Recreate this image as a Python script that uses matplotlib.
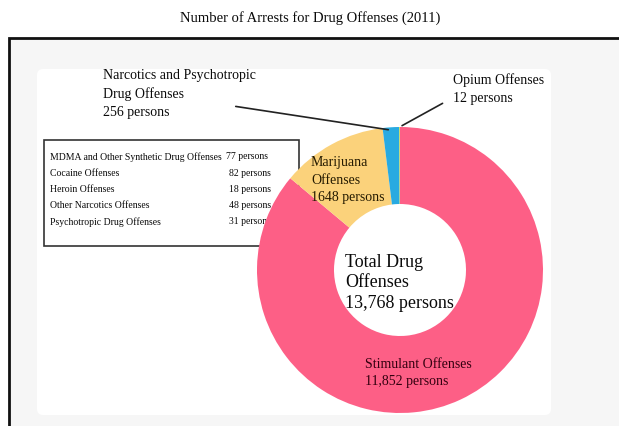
import matplotlib.pyplot as plt
from matplotlib.patches import Rectangle, FancyBboxPatch
import numpy as np

# arrests by offense type, 2011
slice_names = ['Stimulant Offenses', 'Marijuana Offenses',
               'Narcotics and Psychotropic Drug Offenses', 'Opium Offenses']
slice_values = [11852, 1648, 256, 12]
slice_colors = ['#fd5f86', '#fbd27b', '#28aae1', '#c8d84a']
total = 13768

# breakdown of narcotics / psychotropic offenses
detail_names = ['MDMA and Other Synthetic Drug Offenses', 'Cocaine Offenses',
                'Heroin Offenses', 'Other Narcotics Offenses',
                'Psychotropic Drug Offenses']
detail_values = [77, 82, 18, 48, 31]

W, H = 619, 427
plt.rcParams['font.family'] = ['Liberation Serif', 'DejaVu Serif']

fig = plt.figure(figsize=(W / 100, H / 100), dpi=100)
fig.patch.set_facecolor('white')

# background layer in pixel units (origin top-left)
bg = fig.add_axes([0, 0, 1, 1])
bg.set_xlim(0, W)
bg.set_ylim(H, 0)
bg.axis('off')

bg.text(310, 18, 'Number of Arrests for Drug Offenses (2011)',
        ha='center', va='center', fontsize=10.5, color='#0a0a0a')
bg.add_patch(Rectangle((9, 39), 640, 420, facecolor='#f6f6f6',
                       edgecolor='#111111', linewidth=2))
bg.add_patch(FancyBboxPatch((37, 70), 514, 346,
                            boxstyle='round,pad=0,rounding_size=6',
                            facecolor='white', edgecolor='none'))

# breakdown table box
bg.add_patch(Rectangle((44, 141), 255, 106, facecolor='white',
                       edgecolor='#333333', linewidth=1.2))
row_y = [157, 174, 190, 206, 222]
for i, (name, val) in enumerate(zip(detail_names, detail_values)):
    bg.text(50, row_y[i], name, ha='left', va='center', fontsize=7,
            color='#0a0a0a')
    x_num = 226 if i == 0 else 229
    bg.text(x_num, row_y[i], f'{val} persons', ha='left', va='center',
            fontsize=7, color='#0a0a0a')

# donut
cx, cy, R, r_in = 400, 271, 143, 66
ax = fig.add_axes([(cx - R) / W, (H - cy - R) / H, 2 * R / W, 2 * R / H])
ax.pie(slice_values, colors=slice_colors, startangle=90, counterclock=False,
       radius=1, wedgeprops=dict(width=(R - r_in) / R, linewidth=0))
ax.set_xlim(-1, 1)
ax.set_ylim(-1, 1)
ax.axis('off')

# wedge angles for leader lines
ends = np.cumsum(slice_values) / total * 360
starts = ends - np.array(slice_values) / total * 360
mids = 90 - (starts + ends) / 2


def wedge_point(i, rad=0.98):
    a = np.deg2rad(mids[i])
    return rad * np.cos(a), rad * np.sin(a)


ax.annotate('', xy=wedge_point(2), xytext=(233, 107),
            textcoords=bg.transData, annotation_clip=False,
            arrowprops=dict(arrowstyle='-', color='#222222', lw=1.2))
ax.annotate('', xy=wedge_point(3, 1.0), xytext=(445, 103),
            textcoords=bg.transData, annotation_clip=False,
            arrowprops=dict(arrowstyle='-', color='#222222', lw=1.2))

txt = dict(ha='left', va='center', fontsize=10, color='#0a0a0a',
           linespacing=1.5)
bg.text(103, 94, f'Narcotics and Psychotropic\nDrug Offenses\n'
        f'{slice_values[2]} persons', zorder=5, **txt)
bg.text(453, 89, f'Opium Offenses\n{slice_values[3]} persons',
        zorder=5, **txt)

top = dict(ha='left', va='center', fontsize=10, linespacing=1.45)
fig.text(311 / W, 1 - 180 / H, f'Marijuana\nOffenses\n{slice_values[1]} persons',
         color='#241a00', **top)
fig.text(365 / W, 1 - 373 / H, f'Stimulant Offenses\n{slice_values[0]:,} persons',
         color='#33000f', **top)
fig.text(345 / W, 1 - 283 / H, f'Total Drug\nOffenses\n{total:,} persons',
         ha='left', va='center', fontsize=13, linespacing=1.3,
         color='#0a0a0a')

fig.savefig('out.png', dpi=100)
